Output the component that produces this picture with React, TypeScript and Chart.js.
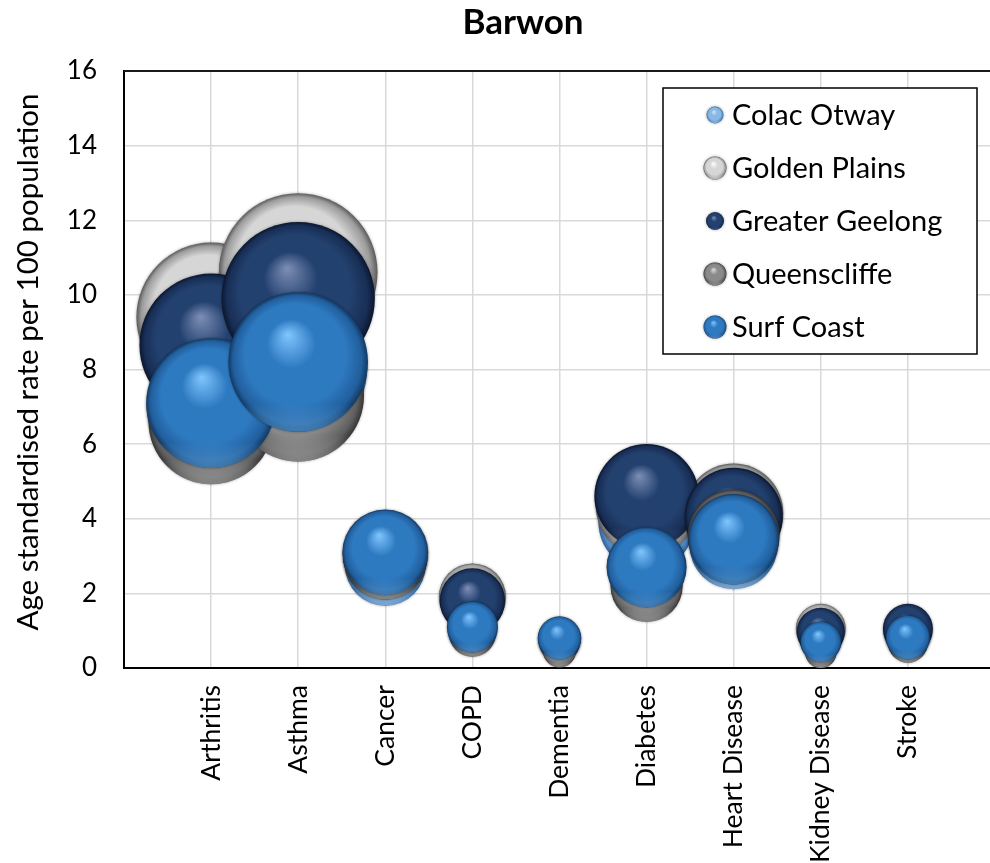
import { useEffect, useRef } from "react";
import { Chart, registerables } from "chart.js";

Chart.register(...registerables);

// Conditions along the x axis (placed at x = 1..9)
const categories = [
  "Arthritis",
  "Asthma",
  "Cancer",
  "COPD",
  "Dementia",
  "Diabetes",
  "Heart Disease",
  "Kidney Disease",
  "Stroke",
];

// Age standardised rate per 100 population, one value per condition
const colacOtway = [7.0, 8.0, 2.75, 1.0, 0.7, 3.9, 3.3, 0.75, 0.9];
const goldenPlains = [9.4, 10.6, 3.0, 1.9, 0.7, 4.35, 4.15, 1.05, 1.0];
const greaterGeelong = [8.65, 9.9, 3.05, 1.8, 0.75, 4.6, 4.05, 0.97, 1.05];
const queenscliffe = [6.6, 7.3, 2.95, 0.93, 0.45, 2.2, 3.55, 0.42, 0.68];
const surfCoast = [7.1, 8.2, 3.1, 1.1, 0.8, 2.7, 3.45, 0.7, 0.82];

const seriesNames = ["Colac Otway", "Golden Plains", "Greater Geelong", "Queenscliffe", "Surf Coast"];
const seriesValues = [colacOtway, goldenPlains, greaterGeelong, queenscliffe, surfCoast];

const yMin = 0;
const yMax = 16;
const yStep = 2;

const chartTitle = "Barwon";
const yAxisTitle = "Age standardised rate per 100 population";

const FONT = "Lato, 'Open Sans', sans-serif";

type Palette = { hi: string; base: string; shade: string; edge: string; glow: string };

const palettes: Palette[] = [
  { hi: "#d4eafd", base: "#88b8e4", shade: "#5189c2", edge: "#2f5f93", glow: "#c4e2ff" },
  { hi: "#ffffff", base: "#d6d6d6", shade: "#9c9c9c", edge: "#5a5a5a", glow: "#ffffff" },
  { hi: "#7d8fb6", base: "#23416f", shade: "#182e55", edge: "#0b162e", glow: "#5a78b0" },
  { hi: "#dcdcdc", base: "#8a8a8a", shade: "#5e5e5e", edge: "#353535", glow: "#cfcfcf" },
  { hi: "#80c6ff", base: "#2e7ac1", shade: "#215f9d", edge: "#123963", glow: "#72b8f2" },
];

// legend marker radii
const legendMarkerR = [8.5, 11.5, 9, 11.5, 11.5];

function rgba(hex: string, a: number) {
  const n = parseInt(hex.slice(1), 16);
  return `rgba(${(n >> 16) & 255},${(n >> 8) & 255},${n & 255},${a})`;
}

function drawSphere(ctx: CanvasRenderingContext2D, x: number, y: number, r: number, p: Palette) {
  if (!(r > 0)) return;
  ctx.save();
  ctx.beginPath();
  ctx.arc(x, y, r, 0, Math.PI * 2);
  ctx.closePath();
  const g = ctx.createRadialGradient(x - 0.15 * r, y - 0.4 * r, 0, x, y, r);
  g.addColorStop(0, p.hi);
  g.addColorStop(0.35, p.base);
  g.addColorStop(0.72, p.base);
  g.addColorStop(0.92, p.shade);
  g.addColorStop(1, p.edge);
  ctx.shadowColor = "rgba(0,0,0,0.35)";
  ctx.shadowBlur = 3;
  ctx.fillStyle = g;
  ctx.fill();
  ctx.shadowColor = "transparent";
  ctx.shadowBlur = 0;
  ctx.clip();
  const lg = ctx.createLinearGradient(0, y + 0.6 * r, 0, y + r);
  lg.addColorStop(0, rgba(p.glow, 0));
  lg.addColorStop(1, rgba(p.glow, 0.5));
  ctx.fillStyle = lg;
  ctx.fillRect(x - r, y + 0.6 * r, 2 * r, 0.4 * r);
  ctx.restore();
}

// bubble area proportional to the value, scaled to the plot height
function bubbleRadius(chart: Chart, value: number) {
  const area = chart.chartArea;
  const h = area ? area.bottom - area.top : 597;
  return (h / 24.5) * Math.sqrt(Math.max(value, 0));
}

const spherePlugin = {
  id: "spheres",
  beforeDatasetDraw(chart: Chart, args: any) {
    const ctx = chart.ctx;
    const pal = palettes[args.index];
    for (const el of args.meta.data as any[]) {
      const { x, y } = el.getProps(["x", "y"], true);
      drawSphere(ctx, x, y, el.options.radius, pal);
    }
    return false;
  },
};

const framePlugin = {
  id: "frame",
  afterDraw(chart: Chart) {
    const { ctx, chartArea } = chart;
    ctx.save();
    // plot area top border
    ctx.strokeStyle = "#1a1a1a";
    ctx.lineWidth = 2;
    ctx.beginPath();
    ctx.moveTo(chartArea.left, chartArea.top);
    ctx.lineTo(chartArea.right, chartArea.top);
    ctx.stroke();

    // chart title
    ctx.fillStyle = "#000";
    ctx.font = `bold 35px ${FONT}`;
    ctx.textAlign = "center";
    ctx.textBaseline = "middle";
    ctx.fillText(chartTitle, 523, 23);

    // y axis title
    ctx.save();
    ctx.translate(28, 362);
    ctx.rotate(-Math.PI / 2);
    ctx.font = `29.5px ${FONT}`;
    ctx.fillText(yAxisTitle, 0, 0);
    ctx.restore();

    // legend
    const lx = 663;
    const ly = 88;
    const lw = 314;
    const lh = 266;
    ctx.fillStyle = "#fff";
    ctx.fillRect(lx, ly, lw, lh);
    ctx.strokeStyle = "#000";
    ctx.lineWidth = 1.5;
    ctx.strokeRect(lx, ly, lw, lh);
    ctx.font = `29px ${FONT}`;
    ctx.textAlign = "left";
    ctx.textBaseline = "middle";
    seriesNames.forEach((name, i) => {
      const cy = ly + 27 + i * 53;
      drawSphere(ctx, lx + 52, cy, legendMarkerR[i], palettes[i]);
      ctx.fillStyle = "#000";
      ctx.fillText(name, lx + 69, cy + 1);
    });
    ctx.restore();
  },
};

function zeroPadding(scale: any) {
  scale.paddingLeft = 0;
  scale.paddingRight = 0;
  scale.paddingTop = 0;
  scale.paddingBottom = 0;
}

export default function App() {
  const canvasRef = useRef<HTMLCanvasElement | null>(null);

  useEffect(() => {
    const canvas = canvasRef.current;
    if (!canvas) return;

    const n = seriesNames.length;
    const datasets = seriesNames.map((name, s) => ({
      label: name,
      data: seriesValues[s].map((v, i) => ({ x: i + 1, y: v })),
      radius: (c: any) => bubbleRadius(c.chart, c.raw ? c.raw.y : 0),
      backgroundColor: palettes[s].base,
      borderWidth: 0,
      // later series are painted over earlier ones
      order: n - 1 - s,
      clip: false as const,
    }));

    const chart = new Chart(canvas, {
      type: "bubble",
      data: { datasets },
      plugins: [spherePlugin, framePlugin],
      options: {
        animation: false,
        responsive: false,
        maintainAspectRatio: false,
        devicePixelRatio: 1,
        layout: { autoPadding: false, padding: { top: 71, right: 5, left: 0, bottom: 0 } },
        plugins: {
          legend: { display: false },
          title: { display: false },
          tooltip: { enabled: false },
        },
        scales: {
          x: {
            type: "linear",
            min: 0,
            max: categories.length + 1,
            afterFit: (scale: any) => {
              scale.height = 195;
              zeroPadding(scale);
            },
            border: { display: true, color: "#000", width: 2 },
            grid: { color: "#d9d9d9", lineWidth: 1.5, drawTicks: false },
            ticks: {
              stepSize: 1,
              autoSkip: false,
              maxRotation: 90,
              minRotation: 90,
              padding: 17,
              color: "#000",
              font: { family: FONT, size: 26.5 },
              callback: (v: any) => categories[Number(v) - 1] ?? "",
            },
          },
          y: {
            type: "linear",
            min: yMin,
            max: yMax,
            afterFit: (scale: any) => {
              scale.width = 124;
              zeroPadding(scale);
            },
            border: { display: true, color: "#000", width: 2 },
            grid: { color: "#d9d9d9", lineWidth: 1.5, drawTicks: false },
            ticks: {
              stepSize: yStep,
              padding: 27,
              color: "#000",
              font: { family: FONT, size: 26 },
            },
          },
        },
      },
    });

    return () => chart.destroy();
  }, []);

  return (
    <div
      style={{
        position: "fixed",
        left: 0,
        top: 0,
        width: 990,
        height: 863,
        overflow: "hidden",
        background: "#fff",
      }}
    >
      <canvas ref={canvasRef} width={1000} height={863} style={{ width: 1000, height: 863, display: "block" }} />
    </div>
  );
}
